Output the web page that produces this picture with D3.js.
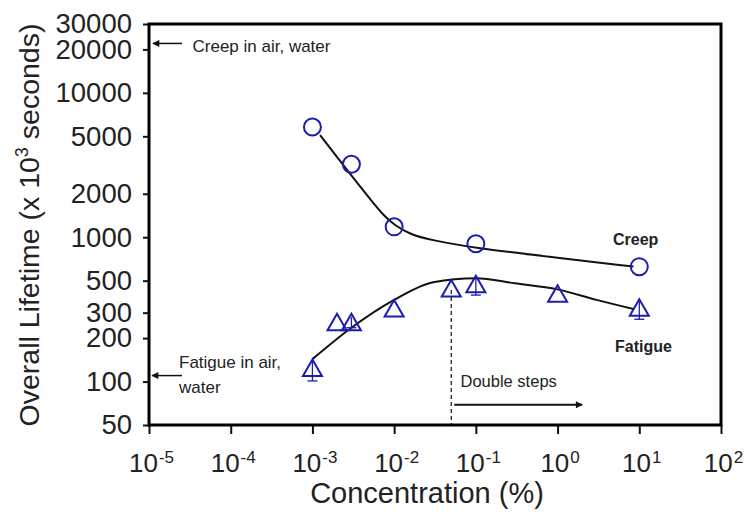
<!DOCTYPE html>
<html><head><meta charset="utf-8">
<script src="https://cdn.jsdelivr.net/npm/d3@7"></script>
<style>body{margin:0;background:#fff}</style>
</head><body>
<svg id="chart" width="747" height="515"></svg>
<script>
// ---- data ----
const creepConc = [0.001, 0.003, 0.01, 0.1, 10];
const creepLife = [5800, 3200, 1180, 900, 625];

const fatigueConc = [0.001, 0.002, 0.003, 0.01, 0.05, 0.1, 1, 10];
const fatigueLife = [124, 258, 258, 321, 441, 472, 405, 324];
const fatigueErrLow = [101, null, 236, null, null, 397, null, 270];
const fatigueErrHigh = [140, null, 280, null, null, 530, null, 365];

const creepFitConc = [0.00124, 0.00264, 0.00558, 0.00754, 0.01, 0.0157, 0.0276, 0.1, 0.74, 8.5];
const creepFitLife = [5100, 2925, 1719, 1405, 1217, 1046, 958, 839, 735, 626];

const fatigueFitConc = [0.001, 0.003, 0.01, 0.03, 0.1, 0.3, 1, 3, 8.5];
const fatigueFitLife = [143, 236, 368, 488, 520, 479, 435, 368, 318];

const xTickExponents = [-5, -4, -3, -2, -1, 0, 1, 2];
const yTickValues = [50, 100, 200, 300, 500, 1000, 2000, 5000, 10000, 20000, 30000];

const creepInAirLife = 22000;
const fatigueInAirLife = 110;
const doubleStepsStart = 0.05;
const doubleStepsEnd = 2;
const doubleStepsArrowLife = 69;

// ---- layout ----
const W = 747, H = 515;
const margin = {left: 149, top: 24, right: 26, bottom: 90};
const FONT = "'Liberation Sans', Arial, Helvetica, sans-serif";
const BLUE = "#1c1cb0";

const svg = d3.select("#chart");
const x = d3.scaleLog().domain([1e-5, 1e2]).range([margin.left, W - margin.right]);
const y = d3.scaleLog().domain([50, 30000]).range([H - margin.bottom, margin.top]);

svg.append("defs").append("marker")
  .attr("id", "ah").attr("viewBox", "0 0 10 10").attr("refX", 9).attr("refY", 5)
  .attr("markerWidth", 9).attr("markerHeight", 7).attr("markerUnits", "userSpaceOnUse")
  .attr("orient", "auto")
  .append("path").attr("d", "M0,0L10,5L0,10Z").attr("fill", "#111");

// y axis
const yAxis = svg.append("g").attr("transform", `translate(${margin.left},0)`)
  .call(d3.axisLeft(y).tickValues(yTickValues).tickFormat(d3.format("d")).tickSize(6).tickPadding(11));
yAxis.select(".domain").remove();
yAxis.selectAll(".tick line").attr("stroke", "#111").attr("stroke-width", 2);
yAxis.selectAll(".tick text").attr("font-family", FONT).attr("font-size", 27.5).attr("fill", "#222");

// x axis
const xAxis = svg.append("g").attr("transform", `translate(0,${H - margin.bottom})`)
  .call(d3.axisBottom(x).tickValues(xTickExponents.map(e => Math.pow(10, e))).tickSize(9).tickFormat(""));
xAxis.select(".domain").remove();
xAxis.selectAll(".tick line").attr("stroke", "#111").attr("stroke-width", 2);
xAxis.selectAll(".tick").each(function(d, i) {
  const t = d3.select(this).append("text")
    .attr("x", 2).attr("y", 46.7).attr("text-anchor", "middle")
    .attr("font-family", FONT).attr("font-size", 26).attr("fill", "#222");
  t.append("tspan").text("10");
  t.append("tspan").attr("font-size", 17).attr("dy", -9).attr("dx", 1).text(String(xTickExponents[i]));
});

// frame
svg.append("rect")
  .attr("x", margin.left).attr("y", margin.top)
  .attr("width", W - margin.left - margin.right).attr("height", H - margin.top - margin.bottom)
  .attr("fill", "none").attr("stroke", "#000").attr("stroke-width", 3);

// axis titles
const yt = svg.append("text")
  .attr("transform", `translate(39,225) rotate(-90)`)
  .attr("text-anchor", "middle").attr("font-family", FONT).attr("font-size", 28.5).attr("fill", "#222");
yt.append("tspan").text("Overall Lifetime (x 10");
yt.append("tspan").attr("font-size", 18).attr("dy", -11).text("3");
yt.append("tspan").attr("dy", 11).text(" seconds)");

svg.append("text").attr("x", 427).attr("y", 503).attr("text-anchor", "middle")
  .attr("font-family", FONT).attr("font-size", 29).attr("fill", "#222").text("Concentration (%)");

// fit curves
const creepLine = d3.line().x(d => x(d[0])).y(d => y(d[1])).curve(d3.curveBasis);
const fatigueLine = d3.line().x(d => x(d[0])).y(d => y(d[1])).curve(d3.curveMonotoneX);
svg.append("path").datum(creepFitConc.map((c, i) => [c, creepFitLife[i]]))
  .attr("d", creepLine).attr("fill", "none").attr("stroke", "#111").attr("stroke-width", 2);
svg.append("path").datum(fatigueFitConc.map((c, i) => [c, fatigueFitLife[i]]))
  .attr("d", fatigueLine).attr("fill", "none").attr("stroke", "#111").attr("stroke-width", 2);

// dashed line at double-steps start
svg.append("line")
  .attr("x1", x(doubleStepsStart)).attr("x2", x(doubleStepsStart))
  .attr("y1", y(430)).attr("y2", y(50))
  .attr("stroke", "#111").attr("stroke-width", 1.2).attr("stroke-dasharray", "4,3");

// error bars
fatigueConc.forEach((c, i) => {
  if (fatigueErrLow[i] == null) return;
  const cx = x(c);
  svg.append("line").attr("x1", cx).attr("x2", cx)
    .attr("y1", y(fatigueErrLow[i])).attr("y2", y(fatigueErrHigh[i]))
    .attr("stroke", BLUE).attr("stroke-width", 1.3);
  svg.append("line").attr("x1", cx - 5).attr("x2", cx + 5)
    .attr("y1", y(fatigueErrLow[i])).attr("y2", y(fatigueErrLow[i]))
    .attr("stroke", BLUE).attr("stroke-width", 1.3);
});

// markers
svg.selectAll("circle.creep").data(creepConc.map((c, i) => [c, creepLife[i]])).enter()
  .append("circle").attr("class", "creep")
  .attr("cx", d => x(d[0])).attr("cy", d => y(d[1])).attr("r", 8.5)
  .attr("fill", "none").attr("stroke", BLUE).attr("stroke-width", 2);

svg.selectAll("path.fat").data(fatigueConc.map((c, i) => [c, fatigueLife[i]])).enter()
  .append("path").attr("class", "fat")
  .attr("transform", d => `translate(${x(d[0])},${y(d[1])})`)
  .attr("d", "M0,-8.5L9.5,8L-9.5,8Z")
  .attr("fill", "none").attr("stroke", BLUE).attr("stroke-width", 2).attr("stroke-linejoin", "miter");

// annotations
function arrow(x1, y1, x2, y2, w) {
  svg.append("line").attr("x1", x1).attr("y1", y1).attr("x2", x2).attr("y2", y2)
    .attr("stroke", "#111").attr("stroke-width", w).attr("marker-end", "url(#ah)");
}
arrow(x(1e-5) + 33, y(creepInAirLife), x(1e-5) + 4, y(creepInAirLife), 1.5);
arrow(x(1e-5) + 33, y(fatigueInAirLife), x(1e-5) + 3, y(fatigueInAirLife), 1.5);
arrow(x(doubleStepsStart) + 3, y(doubleStepsArrowLife), x(doubleStepsEnd), y(doubleStepsArrowLife), 2);

function label(tx, ty, s, size, weight) {
  svg.append("text").attr("x", tx).attr("y", ty).attr("font-family", FONT)
    .attr("font-size", size).attr("font-weight", weight || "normal").attr("fill", "#222").text(s);
}
label(192.5, 51.5, "Creep in air, water", 17);
label(179, 368, "Fatigue in air,", 17);
label(179, 393, "water", 17);
label(460.5, 386.5, "Double steps", 16.5);
label(613, 245, "Creep", 16, "bold");
label(615, 352, "Fatigue", 16, "bold");
</script>
</body></html>
